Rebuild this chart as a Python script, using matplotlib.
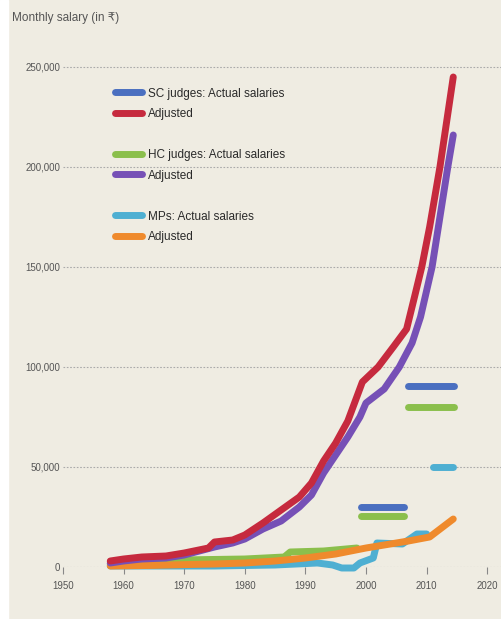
import numpy as np
import matplotlib.pyplot as plt
from matplotlib.lines import Line2D

plt.rcParams['font.family'] = ['Liberation Sans Narrow', 'Liberation Sans', 'DejaVu Sans']

# SC judges, adjusted salaries
sc_adj_years = [1957.8, 1960, 1963, 1967, 1970, 1974, 1975, 1978, 1980, 1983, 1986,
                1989, 1991, 1993, 1995, 1997, 1999.4, 2002, 2004.5, 2006.7, 2008,
                2009.2, 2010.5, 2012.2, 2014.4]
sc_adj = [3000, 4000, 5000, 5500, 7000, 9500, 12500, 13500, 16000, 22000, 28500,
          35000, 42000, 53000, 62000, 73000, 92500, 100000, 110000, 119000, 135000,
          150000, 170000, 200000, 245000]

# HC judges, adjusted salaries
hc_adj_years = [1957.8, 1960, 1963, 1967, 1970, 1975, 1978, 1980, 1983, 1986, 1989,
                1991, 1993, 1995, 1997, 1999, 2000, 2003, 2005.5, 2007.6, 2009,
                2010.9, 2013.5, 2014.4]
hc_adj = [2000, 3000, 4000, 4500, 6000, 10000, 12000, 14000, 19000, 23000, 30000,
          36000, 47000, 56000, 65000, 75000, 82000, 89000, 100000, 112000, 125000,
          150000, 200000, 216000]

# HC judges, actual salaries (lower run, then two flat steps)
hc_act_years = [1957.8, 1962, 1969, 1980, 1986.5, 1987.5, 1993, 1998.5]
hc_act = [1500, 2000, 3500, 4000, 5000, 7500, 8000, 9500]
hc_steps = [(1999.1, 2006.3, 25500), (2006.9, 2014.6, 80000)]

# SC judges, actual salaries (flat steps)
sc_steps = [(1999.1, 2006.3, 30000), (2006.9, 2014.6, 90500)]

# MPs, actual salaries
mp_act_years = [1957.8, 1975, 1985, 1992, 1994.5, 1996, 1998, 1999, 2001.2, 2001.8,
                2006, 2008.4, 2010]
mp_act = [500, 500, 1000, 2000, 1000, -500, -500, 2000, 4500, 12000, 11500, 16500, 16500]
mp_steps = [(2011.1, 2014.4, 50000)]

# MPs, adjusted salaries
mp_adj_years = [1957.8, 1965, 1970, 1975, 1980, 1985, 1990, 1995, 2000, 2004, 2007,
                2010.5, 2014.4]
mp_adj = [500, 800, 1200, 1500, 2000, 3000, 4500, 6500, 9500, 11500, 13000, 15000,
          24000]

x_ticks = [1950, 1960, 1970, 1980, 1990, 2000, 2010, 2020]
y_ticks = [0, 50000, 100000, 150000, 200000, 250000]

blue = '#4a6fc0'
red = '#c62a3e'
green = '#8bbf4c'
purple = '#7650b6'
cyan = '#4eafd2'
orange = '#ef8a2c'
bg = '#efece2'
lw = 5

W, H = 501, 619
fig = plt.figure(figsize=(W / 100, H / 100), dpi=100)
fig.patch.set_facecolor(bg)
# white strip on the left edge of the scan
fig.patches.append(plt.Rectangle((0, 0), 8 / W, 1, transform=fig.transFigure,
                                 color='white', zorder=0))

ax = fig.add_axes([63 / W, (H - 567) / H, (W - 63) / W, (567 - 50) / H])
ax.set_facecolor(bg)
ax.set_xlim(1950, 1950 + (W - 63) / 6.06)
ax.set_ylim(0, (567 - 50) * 500)

for s in ax.spines.values():
    s.set_visible(False)

ax.set_yticks(y_ticks)
ax.set_yticklabels([f'{v:,}' for v in y_ticks])
ax.set_xticks(x_ticks)
ax.tick_params(axis='y', length=0, pad=2, labelsize=7, labelcolor='#555555')
ax.tick_params(axis='x', length=5, width=0.8, color='#888888', pad=5,
               labelsize=7, labelcolor='#555555')
ax.grid(axis='y', color='#aaaaaa', linestyle=(0, (1.5, 1.5)), linewidth=0.8)
ax.set_axisbelow(True)

kw = dict(linewidth=lw, solid_capstyle='round', solid_joinstyle='round', clip_on=False)
ax.plot(mp_act_years, mp_act, color=cyan, **kw)
for x0, x1, v in mp_steps:
    ax.plot([x0, x1], [v, v], color=cyan, **kw)
ax.plot(hc_act_years, hc_act, color=green, **kw)
ax.plot(mp_adj_years, mp_adj, color=orange, **kw)
for x0, x1, v in hc_steps:
    ax.plot([x0, x1], [v, v], color=green, **kw)
for x0, x1, v in sc_steps:
    ax.plot([x0, x1], [v, v], color=blue, **kw)
ax.plot(hc_adj_years, hc_adj, color=purple, **kw)
ax.plot(sc_adj_years, sc_adj, color=red, **kw)

hkw = dict(lw=lw, solid_capstyle='round')
handles = [
    Line2D([], [], color=blue, **hkw), Line2D([], [], color=red, **hkw),
    Line2D([], [], color='none'),
    Line2D([], [], color=green, **hkw), Line2D([], [], color=purple, **hkw),
    Line2D([], [], color='none'),
    Line2D([], [], color=cyan, **hkw), Line2D([], [], color=orange, **hkw),
]
labels = ['SC judges: Actual salaries', 'Adjusted', '',
          'HC judges: Actual salaries', 'Adjusted', '',
          'MPs: Actual salaries', 'Adjusted']
leg = ax.legend(handles, labels, loc='upper left', bbox_to_anchor=(104 / W, 1 - 77 / H),
                bbox_transform=fig.transFigure, frameon=False, fontsize=8.5,
                handlelength=2.3, handletextpad=0.5, labelspacing=0.72)
for t in leg.get_texts():
    t.set_color('#2a2a2a')

fig.text(12 / W, 1 - 18 / H, 'Monthly salary (in ₹)', fontsize=8.5, color='#555555',
         va='center', ha='left')

fig.savefig('out.png', dpi=100, facecolor=fig.get_facecolor())
